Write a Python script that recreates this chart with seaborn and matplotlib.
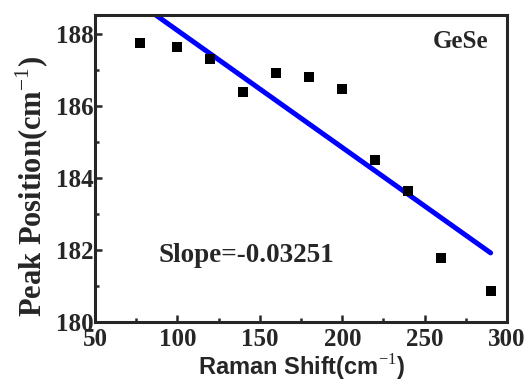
import matplotlib
matplotlib.use("Agg")
import matplotlib.pyplot as plt
import seaborn as sns
import pandas as pd
from matplotlib.ticker import MultipleLocator

# data
raman_shift = [77, 100, 120, 140, 160, 180, 200, 220, 240, 260, 290]
peak_pos = [187.75, 187.65, 187.32, 186.40, 186.92, 186.80, 186.48, 184.50, 183.63, 181.77, 180.85]
fit_slope = -0.03251
fit_intercept = 191.35
fit_x = [77, 290]

sns.set_style("ticks")
plt.rcParams["font.family"] = ["Liberation Serif", "DejaVu Serif"]
plt.rcParams["mathtext.fontset"] = "custom"
plt.rcParams["mathtext.rm"] = "Liberation Serif"
plt.rcParams["mathtext.bf"] = "Liberation Serif:bold"
plt.rcParams["axes.unicode_minus"] = False

df = pd.DataFrame({"x": raman_shift, "y": peak_pos})
fit = pd.DataFrame({"x": fit_x, "y": [fit_intercept + fit_slope * v for v in fit_x]})

fig = plt.figure(figsize=(5.31, 3.83), dpi=100)
ax = fig.add_axes([0.179, 0.159, 0.776, 0.802])

sns.lineplot(data=fit, x="x", y="y", ax=ax, color="#0000FF", linewidth=3.6)
sns.scatterplot(data=df, x="x", y="y", ax=ax, marker="s", s=55, color="black",
                edgecolor="black", linewidth=0, zorder=3)

ax.set_xlim(50, 300)
ax.set_ylim(180, 188.53)
ax.xaxis.set_major_locator(MultipleLocator(50))
ax.xaxis.set_minor_locator(MultipleLocator(25))
ax.yaxis.set_major_locator(MultipleLocator(2))
ax.yaxis.set_minor_locator(MultipleLocator(1))
ax.tick_params(which="both", direction="in", top=False, right=False, width=1.8)
ax.tick_params(which="major", length=5, labelsize=18)
ax.tick_params(axis="x", which="major", pad=4)
ax.tick_params(axis="y", which="major", pad=1)
ax.tick_params(which="minor", length=3)
for lab in ax.get_xticklabels() + ax.get_yticklabels():
    lab.set_fontweight("bold")
for sp in ax.spines.values():
    sp.set_linewidth(2.2)
    sp.set_visible(True)

ax.set_xlabel("Raman Shift(cm$^{\\mathrm{-1}}$)", fontsize=17, fontweight="bold",
              family=["Liberation Sans", "DejaVu Sans"])
ax.set_ylabel("Peak Position(cm$^{\\mathrm{-1}}$)", fontsize=22, fontweight="bold")
ax.xaxis.label.set_va("center")
ax.yaxis.label.set_va("center")
ax.xaxis.set_label_coords(0.5, -0.148)
ax.yaxis.set_label_coords(-0.152, 0.44)

ax.text(0.955, 0.915, "GeSe", transform=ax.transAxes, ha="right", va="center",
        fontsize=18, fontweight="bold")
ax.text(0.153, 0.218, "Slope=-0.03251", transform=ax.transAxes, ha="left", va="center",
        fontsize=19.5, fontweight="bold")

plt.savefig("out.png", dpi=100)
plt.close()
